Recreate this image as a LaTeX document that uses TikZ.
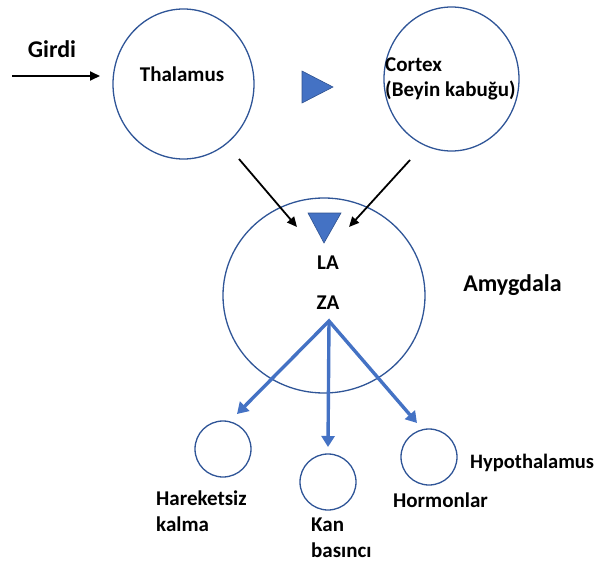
\documentclass[tikz,border=0pt]{standalone}
\usepackage{fontspec}
\setmainfont{Carlito}
\usetikzlibrary{shapes.geometric,arrows.meta}
\definecolor{ringblue}{HTML}{2F5597}
\definecolor{accent}{HTML}{4472C4}
\definecolor{tridark}{HTML}{2F528F}
\tikzset{
  ring/.style={draw=ringblue, line width=1.3pt, ellipse, inner sep=0pt},
  lbl/.style={font=\bfseries\fontsize{21}{25.5}\selectfont, inner sep=0pt, align=left},
  big/.style={font=\bfseries\fontsize{24}{28}\selectfont, inner sep=0pt},
  inarrow/.style={-{Triangle[length=10pt,width=9pt]}, line width=1.8pt},
  outarrow/.style={draw=accent, line width=3.4pt},
  bluetip/.style={-{Triangle[length=11pt,width=13pt]}},
  tri/.style={fill=accent, draw=tridark, line width=0.6pt}
}
\begin{document}
\begin{tikzpicture}[x=1pt,y=-1pt]
	\useasboundingbox (0,0) rectangle (598,562);
	% circles
	\node (Th) at (183.5,84)  [ring, minimum width=141pt, minimum height=150pt] {};
	\node (Cx) at (451.5,79)  [ring, minimum width=135pt, minimum height=144pt] {};
	\node (Am) at (324,295.5) [ring, minimum width=202pt, minimum height=195pt] {};
	\node (Hk) at (223,449)   [ring, minimum size=56pt] {};
	\node (Kb) at (328,482)   [ring, minimum size=56pt] {};
	\node (Hp) at (429,457)   [ring, minimum size=56pt] {};
	% labels
	\node (Gi)  at (52,49.5)  [big] {Girdi};
	\node (ThL) at (182,74.5) [lbl] {Thalamus};
	\node (CxL) at (385,79)   [lbl, anchor=west] {Cortex\\(Beyin kabuğu)};
	\node (LA)  at (328,262.5) [lbl] {LA};
	\node (ZA)  at (328,302.5) [lbl] {ZA};
	\node (AmL) at (512.5,285) [big] {Amygdala};
	\node (HkL) at (156,511)  [lbl, anchor=west] {Hareketsiz\\kalma};
	\node (KbL) at (311,538)  [lbl, anchor=west] {Kan\\basıncı};
	\node (HpL) at (440.5,500.5) [lbl] {Hormonlar};
	\node (Hy)  at (470,463)  [lbl, anchor=west, font=\bfseries\fontsize{20.5}{25}\selectfont] {Hypothalamus};
	% triangles
	\draw[tri] (302,71) -- (302,103) -- (333,87) -- cycle;
	\draw[tri] (308,213) -- (341,213) -- (324,243) -- cycle;
	% arrows
	\coordinate (Ip) at (12,76);
	\coordinate (Ie) at (100,76);
	\coordinate (Ts) at (239,159);
	\coordinate (Te) at (297,227);
	\coordinate (Cs) at (410,160);
	\coordinate (Ce) at (349,227);
	\coordinate (Zo) at (329,321);
	\coordinate (E1) at (237,414);
	\coordinate (E2) at (328,447);
	\coordinate (E3) at (417,423);
	\draw[inarrow] (Ip) -- (Ie);
	\draw[inarrow] (Ts) -- (Te);
	\draw[inarrow] (Cs) -- (Ce);
	\draw[outarrow, {Triangle[length=11pt,width=13pt]}-{Triangle[length=11pt,width=13pt]}] (E1) -- (Zo) -- (E3);
	\draw[outarrow, bluetip] (Zo) -- (E2);
\end{tikzpicture}
\end{document}
